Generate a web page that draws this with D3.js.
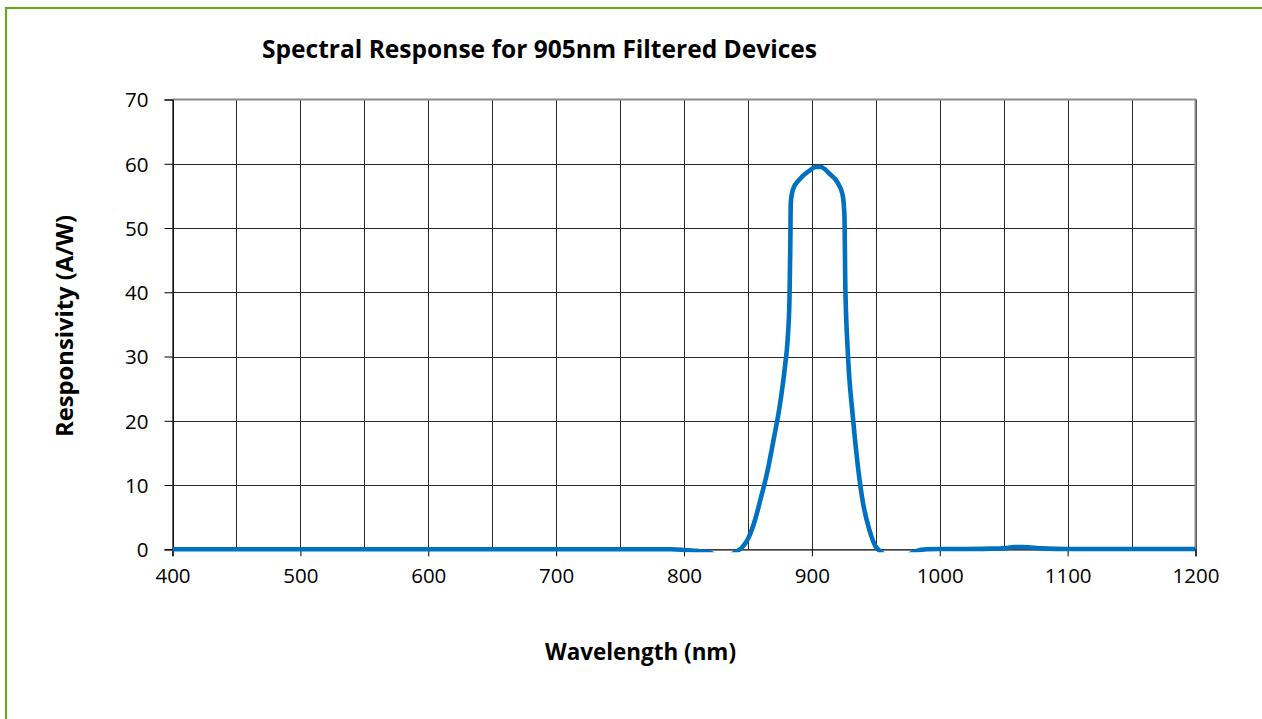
<!DOCTYPE html>
<html>
<head>
<meta charset="utf-8">
<script src="https://cdn.jsdelivr.net/npm/d3@7"></script>
<style>
  html, body { margin: 0; padding: 0; background: #fff; }
  svg { display: block; }
  text { font-family: "Open Sans", "Liberation Sans", sans-serif; fill: #000; }
</style>
</head>
<body>
<svg id="chart" width="1262" height="719"></svg>
<script>
// ---- Data ----
const title = "Spectral Response for 905nm Filtered Devices";
const xTitle = "Wavelength (nm)";
const yTitle = "Responsivity (A/W)";

const wavelength = [400, 450, 500, 550, 600, 650, 700, 750, 780, 790, 800, 810, 820, 828, 834, 840, 845,
  850, 855, 860, 865, 870, 875, 879, 881, 882.5, 883.1, 883.5, 885.2, 890, 898, 903, 907, 914, 920, 924,
  925.5, 926.1, 928, 932, 936, 940, 945, 950, 954, 960, 970, 977, 982, 990, 1000, 1020, 1040, 1050,
  1058, 1065, 1080, 1100, 1150, 1200];
const responsivity = [0, 0, 0, 0, 0, 0, 0, 0, 0, 0, -0.1, -0.25, -0.5, -1.2, -1.2, -0.45, 0.2,
  1.6, 4.2, 7.9, 11.9, 17.0, 22.5, 28.5, 32.5, 39, 46.7, 53.9, 56, 57.5, 58.9, 59.5, 59.5, 58.4, 57.1, 55.2,
  51.9, 41.5, 31.1, 20.7, 12.9, 7.2, 3, 0.4, -0.4, -1.2, -1.3, -0.7, -0.25, 0, 0.05, 0.05, 0.1, 0.15,
  0.35, 0.35, 0.15, 0.05, 0.05, 0.05];

const xTicks = [400, 500, 600, 700, 800, 900, 1000, 1100, 1200];
const xGrid = d3.range(400, 1201, 50);
const yTicks = [0, 10, 20, 30, 40, 50, 60, 70];

// ---- Layout ----
const svg = d3.select("#chart");
const pLeft = 172.5, pRight = 1195.5, pTop = 99.5, pBottom = 549.3;

const x = d3.scaleLinear().domain([400, 1200]).range([pLeft, pRight]);
const y = d3.scaleLinear().domain([0, 70]).range([pBottom, pTop]);

// outer green frame
svg.append("rect")
  .attr("x", 6).attr("y", 8).attr("width", 1300).attr("height", 800)
  .attr("fill", "none").attr("stroke", "#6aa81e").attr("stroke-width", 2.2);

// gridlines
const grid = svg.append("g");
grid.selectAll("line.v").data(xGrid).join("line")
  .attr("class", "v")
  .attr("x1", d => Math.round(x(d)) + 0.5).attr("x2", d => Math.round(x(d)) + 0.5)
  .attr("y1", pTop).attr("y2", pBottom)
  .attr("stroke", "#2a2a2a").attr("stroke-width", 1);
grid.selectAll("line.h").data(yTicks.filter(d => d > 0 && d < 70)).join("line")
  .attr("class", "h")
  .attr("y1", d => Math.round(y(d)) + 0.5).attr("y2", d => Math.round(y(d)) + 0.5)
  .attr("x1", pLeft).attr("x2", pRight)
  .attr("stroke", "#2a2a2a").attr("stroke-width", 1);

// plot border (top & right gray)
svg.append("path")
  .attr("d", `M${pLeft},${pTop} H${pRight} V${pBottom}`)
  .attr("fill", "none").attr("stroke", "#8c8c8c").attr("stroke-width", 2);

// axes
const xAxis = d3.axisBottom(x).tickValues(xTicks).tickSize(7).tickPadding(10).tickFormat(d3.format("d"));
const yAxis = d3.axisLeft(y).tickValues(yTicks).tickSize(8).tickPadding(16).tickFormat(d3.format("d"));

const gx = svg.append("g").attr("transform", `translate(0,${pBottom})`).call(xAxis);
const gy = svg.append("g").attr("transform", `translate(${pLeft},0)`).call(yAxis);
[gx, gy].forEach(g => {
  g.select(".domain").attr("stroke", "#000").attr("stroke-width", 1.2);
  g.selectAll(".tick line").attr("stroke", "#000").attr("stroke-width", 1);
  g.selectAll(".tick text").style("font-family", "'Open Sans', sans-serif")
    .style("font-size", "20.5px").attr("fill", "#000");
});
gx.selectAll(".tick text").attr("dy", "0.82em");
gy.selectAll(".tick text").attr("dy", "0.36em");

// clip for the curve
svg.append("clipPath").attr("id", "plotclip")
  .append("rect").attr("x", pLeft - 3).attr("y", pTop - 5)
  .attr("width", pRight - pLeft + 6).attr("height", pBottom - pTop + 8);

const pts = wavelength.map((w, i) => [w, responsivity[i]]);
const line = d3.line().x(d => x(d[0])).y(d => y(d[1])).curve(d3.curveMonotoneX);
svg.append("path")
  .datum(pts)
  .attr("clip-path", "url(#plotclip)")
  .attr("d", line)
  .attr("fill", "none").attr("stroke", "#0070c0").attr("stroke-width", 4.6)
  .attr("stroke-linejoin", "round").attr("stroke-linecap", "butt");

// titles
svg.append("text").text(title)
  .attr("x", 539.5).attr("y", 58).attr("text-anchor", "middle")
  .style("font-size", "24.5px").style("font-weight", "bold")
  .attr("textLength", 555).attr("lengthAdjust", "spacingAndGlyphs");

svg.append("text").text(xTitle)
  .attr("x", 640.5).attr("y", 660).attr("text-anchor", "middle")
  .style("font-size", "24px").style("font-weight", "bold")
  .attr("textLength", 191).attr("lengthAdjust", "spacingAndGlyphs");

svg.append("text").text(yTitle)
  .attr("transform", "translate(73,326) rotate(-90)")
  .attr("text-anchor", "middle")
  .style("font-size", "24px").style("font-weight", "bold")
  .attr("textLength", 222).attr("lengthAdjust", "spacingAndGlyphs");
</script>
</body>
</html>
